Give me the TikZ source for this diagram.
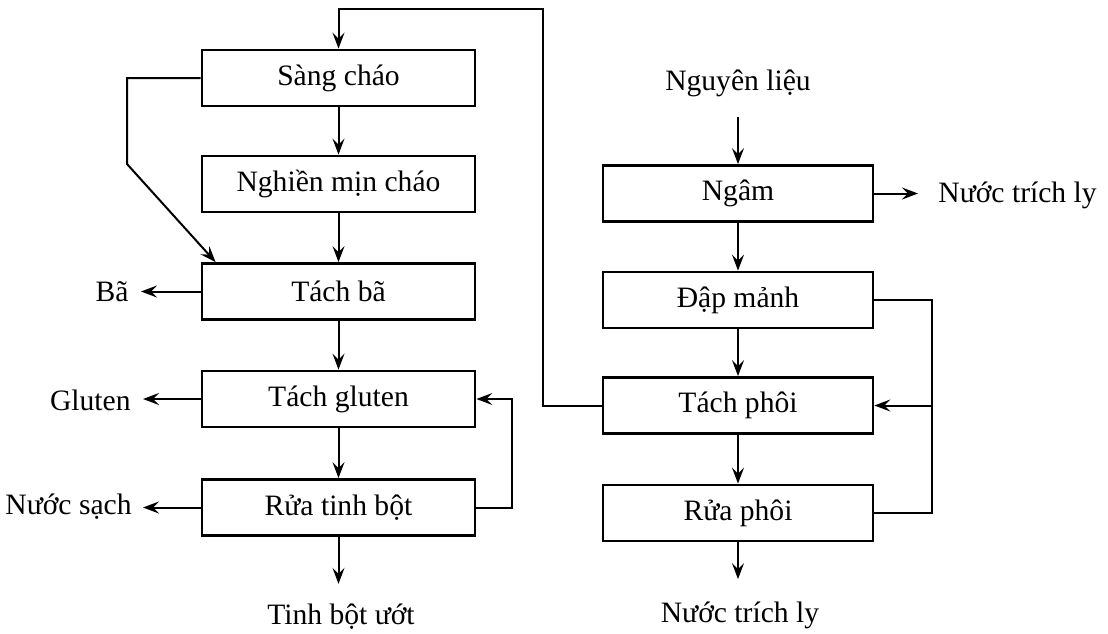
\documentclass[tikz,border=0pt]{standalone}
\usepackage{fontspec}
\setmainfont{Liberation Serif}
\usetikzlibrary{arrows.meta}

\tikzset{
  box/.style={draw, line width=1.4pt, minimum height=28pt, inner sep=0pt,
    font=\fontsize{14.8}{17}\selectfont},
  lbox/.style={box, minimum width=136.5pt},
  rbox/.style={box, minimum width=135pt},
  lbl/.style={inner sep=0pt, font=\fontsize{14.8}{17}\selectfont},
  link/.style={line width=1pt},
  flow/.style={link, -{Stealth[length=8pt, width=6pt, inset=3pt]}},
}

\begin{document}
\begin{tikzpicture}[x=0.5pt, y=-0.5pt]
    \useasboundingbox (0,0) rectangle (1108,633);

    % Left column
    \node[lbox] (sang)   at (338.5,78)    {Sàng cháo};
    \node[lbox] (nghien) at (338.5,184)   {Nghiền mịn cháo};
    \node[lbox] (tachba) at (338.5,291.5) {Tách bã};
    \node[lbox] (gluten) at (338.5,399)   {Tách gluten};
    \node[lbox] (ruatb)  at (338.5,507.5) {Rửa tinh bột};

    % Right column
    \node[rbox] (ngam)  at (738,193.5) {Ngâm};
    \node[rbox] (dap)   at (738,300)   {Đập mảnh};
    \node[rbox] (phoi)  at (738,405.5) {Tách phôi};
    \node[rbox] (ruaph) at (738,513)   {Rửa phôi};

    % Inputs and outputs
    \node[lbl, anchor=east] (ba)    at (129,292)   {Bã};
    \node[lbl, anchor=east] (glu)   at (131,400)   {Gluten};
    \node[lbl, anchor=east] (sach)  at (132,507)   {Nước sạch};
    \node[lbl]              (tbu)   at (341,617)   {Tinh bột ướt};
    \node[lbl]              (nlieu) at (738,83)    {Nguyên liệu};
    \node[lbl, anchor=west] (ntl)   at (938,195)   {Nước trích ly};
    \node[lbl]              (ntlb)  at (740,615)   {Nước trích ly};
    \coordinate (jr) at (931,405.5);

    % Main flow, left
    \draw[flow] (sang) -- (nghien);
    \draw[flow] (nghien) -- (tachba);
    \draw[flow] (tachba) -- (gluten);
    \draw[flow] (gluten) -- (ruatb);
    \draw[flow, shorten >=10pt] (ruatb.south) -- (ruatb.south |- tbu.north);

    % Main flow, right
    \draw[link, line width=0.6pt, -{Stealth[length=8pt, width=6pt, inset=3pt]},
        shorten <=10pt] (nlieu.south) -- (ngam.north);
    \draw[flow] (ngam) -- (dap);
    \draw[flow] (dap) -- (phoi);
    \draw[flow] (phoi) -- (ruaph);
    \draw[flow, shorten >=11pt] (ruaph.south) -- (ruaph.south |- ntlb.north);

    % Side streams
    \draw[flow, shorten >=6pt] (tachba.west) -- (tachba.west -| ba.east);
    \draw[flow, shorten >=6pt] (gluten.west) -- (gluten.west -| glu.east);
    \draw[flow, shorten >=5.5pt] (ruatb.west) -- (ruatb.west -| sach.east);
    \draw[flow, shorten >=10pt] (ngam.east) -- (ngam.east -| ntl.west);

    % Recycling loops
    \draw[flow] (sang.west) -| (127,164) -- ([xshift=7.5pt]tachba.north west);
    \draw[flow] (ruatb.east) -- ++(36,0) |- (gluten.east);
    \draw[flow] (phoi.west) -| (543,9) -| (sang.north);
    \draw[link] (dap.east) -- ++(58,0) |- (ruaph.east);
    \draw[flow] (jr) -- (phoi.east);

\end{tikzpicture}
\end{document}
